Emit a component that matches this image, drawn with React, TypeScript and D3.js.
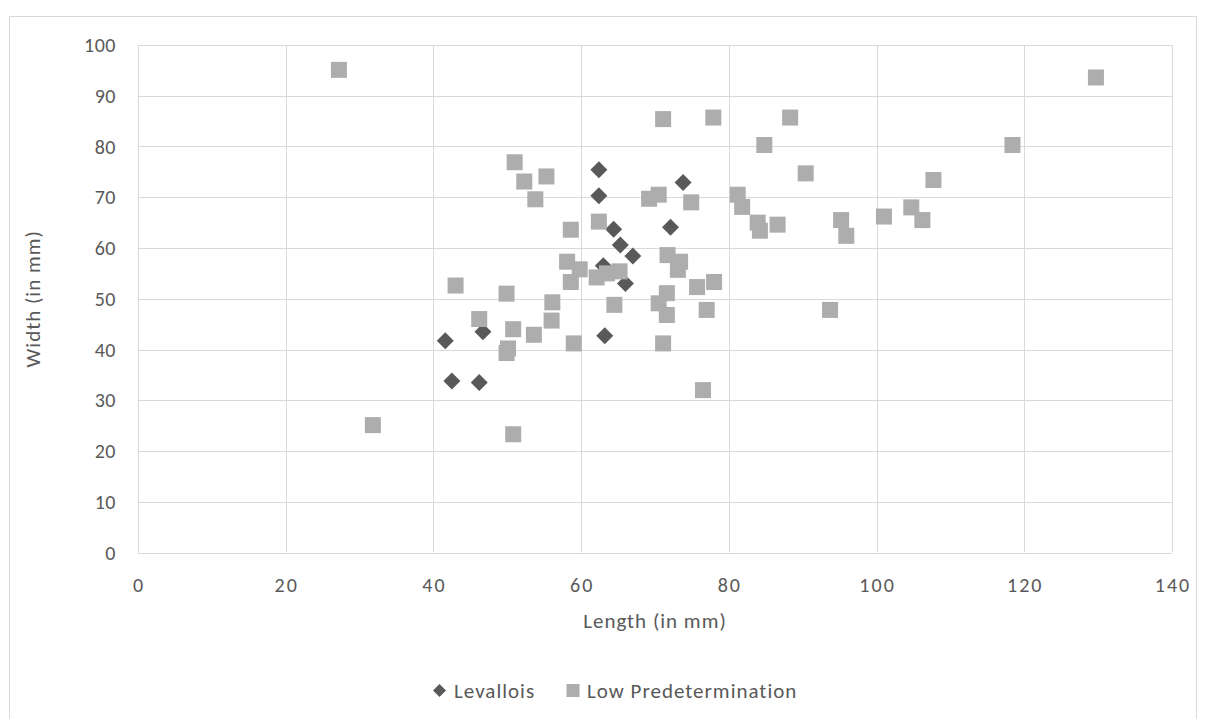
import React from "react";
import * as d3 from "d3";

const levX = [41.6, 42.5, 46.2, 46.7, 62.4, 62.4, 73.8, 64.4, 65.3, 67.0, 72.1, 63.0, 66.0, 63.2];
const levY = [41.7, 33.8, 33.5, 43.5, 75.4, 70.3, 72.9, 63.7, 60.6, 58.4, 64.1, 56.5, 53.0, 42.7];

const lowX = [27.2, 31.8, 43.0, 46.2, 49.9, 50.8, 50.1, 49.9, 50.8, 53.6, 51.0, 52.3, 55.3, 53.8, 56.0, 56.1,
  58.6, 58.1, 59.8, 58.6, 59.0, 62.1, 63.5, 65.2, 62.4, 64.5, 71.1, 77.9, 69.2, 70.5, 74.9, 71.7, 73.4, 73.1,
  75.7, 78.0, 71.6, 70.5, 71.6, 77.0, 71.1, 76.5, 88.3, 84.8, 90.4, 81.2, 81.8, 83.9, 84.2, 86.6, 95.2, 95.9,
  101.0, 104.7, 106.2, 107.7, 93.7, 118.4, 129.7];
const lowY = [95.1, 25.1, 52.6, 46.0, 51.0, 44.0, 40.2, 39.3, 23.3, 42.9, 76.9, 73.1, 74.1, 69.6, 45.7, 49.3,
  63.6, 57.3, 55.8, 53.3, 41.2, 54.2, 55.0, 55.4, 65.2, 48.8, 85.4, 85.7, 69.7, 70.5, 69.0, 58.6, 57.3, 55.7,
  52.3, 53.3, 51.1, 49.1, 46.8, 47.8, 41.2, 32.0, 85.7, 80.3, 74.7, 70.5, 68.1, 65.0, 63.4, 64.6, 65.5, 62.4,
  66.2, 68.0, 65.5, 73.4, 47.8, 80.3, 93.6];

const xTicks = [0, 20, 40, 60, 80, 100, 120, 140];
const yTicks = [0, 10, 20, 30, 40, 50, 60, 70, 80, 90, 100];
const seriesNames = ["Levallois", "Low Predetermination"];
const xTitle = "Length (in mm)";
const yTitle = "Width (in mm)";

const FONT = "Calibri, Carlito, Lato, sans-serif";
const TEXT = "#595959";
const GRID = "#d9d9d9";
const DARK = "#595959";
const LIGHT = "#ADADAD";

export default function App() {
  const x = d3.scaleLinear().domain([0, 140]).range([138, 1172]);
  const y = d3.scaleLinear().domain([0, 100]).range([552.5, 45]);
  const sq = 16;
  const dh = 8.5;
  const diamond = (cx: number, cy: number, h: number) =>
    `M${cx},${cy - h}L${cx + h},${cy}L${cx},${cy + h}L${cx - h},${cy}Z`;

  return (
    <svg width={1205} height={719} style={{ position: "absolute", left: 0, top: 0 }} fontFamily={FONT}>
      <rect x={0} y={0} width={1205} height={719} fill="#fff" />
      <rect x={9.5} y={16.5} width={1187} height={720} fill="#fff" stroke={GRID} strokeWidth={1} />
      {xTicks.map((t) => (
        <line key={"vx" + t} x1={Math.round(x(t)) + 0.5} x2={Math.round(x(t)) + 0.5} y1={y(100)} y2={y(0)} stroke={GRID} strokeWidth={1} />
      ))}
      {yTicks.map((t) => (
        <line key={"hy" + t} x1={x(0)} x2={x(140)} y1={Math.round(y(t)) + 0.5} y2={Math.round(y(t)) + 0.5} stroke={GRID} strokeWidth={1} />
      ))}
      {yTicks.map((t) => (
        <text key={"yl" + t} x={116} y={y(t)} dy="0.35em" textAnchor="end" fontSize={20} letterSpacing={0.5} fill={TEXT}>
          {d3.format("d")(t)}
        </text>
      ))}
      {xTicks.map((t) => (
        <text key={"xl" + t} x={x(t) + 1} y={592} textAnchor="middle" fontSize={20} letterSpacing={2} fill={TEXT}>
          {d3.format("d")(t)}
        </text>
      ))}
      <text x={(x(0) + x(140)) / 2} y={628} textAnchor="middle" fontSize={21} letterSpacing={1} fill={TEXT}>{xTitle}</text>
      <text transform={`translate(40,${(y(0) + y(100)) / 2}) rotate(-90)`} textAnchor="middle" fontSize={21} letterSpacing={1} fill={TEXT}>{yTitle}</text>
      <g>
        {levX.map((v, i) => (
          <path key={"l" + i} d={diamond(x(v), y(levY[i]), dh)} fill={DARK} />
        ))}
      </g>
      <g>
        {lowX.map((v, i) => (
          <rect key={"s" + i} x={x(v) - sq / 2} y={y(lowY[i]) - sq / 2} width={sq} height={sq} fill={LIGHT} />
        ))}
      </g>
      <g>
        <path d={diamond(439.5, 690.5, 6.5)} fill={DARK} />
        <text x={454} y={690.5} dy="0.35em" fontSize={21} letterSpacing={1} fill={TEXT}>{seriesNames[0]}</text>
        <rect x={566.5} y={684} width={13} height={13} fill={LIGHT} />
        <text x={587} y={690.5} dy="0.35em" fontSize={21} letterSpacing={1} fill={TEXT}>{seriesNames[1]}</text>
      </g>
    </svg>
  );
}
